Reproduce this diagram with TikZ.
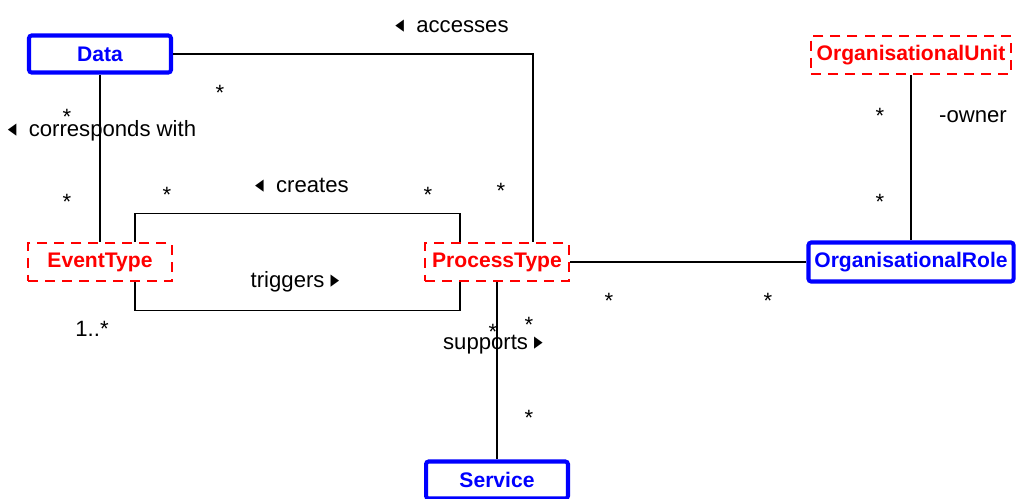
\documentclass[tikz,border=0pt]{standalone}
\usepackage{graphicx}
\usepackage{fontspec}
\setmainfont{Liberation Sans}
\newfontfamily\trifont{DejaVu Sans}
\usetikzlibrary{positioning}
\tikzstyle{cls} = [rectangle, rounded corners=1.5pt, minimum width=2.84cm, minimum height=0.74cm, text centered, draw=blue, line width=2.3pt, text=blue, font=\fontsize{12}{14}\selectfont\bfseries]
\tikzstyle{abstr} = [rectangle, minimum width=2.88cm, minimum height=0.76cm, text centered, draw=red, line width=1.2pt, dash pattern=on 5.7pt off 4pt, text=red, font=\fontsize{12}{14}\selectfont\bfseries]
\tikzstyle{assoc} = [line width=0.6pt]
\tikzstyle{lbl} = [anchor=base, inner sep=0pt, font=\fontsize{12.6}{15}\selectfont]
\newcommand{\ltri}{\scalebox{0.7}[1]{\trifont\fontsize{14}{14}\selectfont ◂}}
\newcommand{\rtri}{\scalebox{0.7}[1]{\trifont\fontsize{14}{14}\selectfont ▸}}

\begin{document}
\begin{tikzpicture}[x=0.02cm, y=-0.02cm]
\useasboundingbox (0,0) rectangle (1017,498);

\node (data) [cls] at (100,54) {Data};
\node (ounit) [abstr, minimum width=4.0cm] at (911,55) {OrganisationalUnit};
\node (etype) [abstr] at (100,262) {EventType};
\node (ptype) [abstr] at (497,262) {ProcessType};
\node (orole) [cls, minimum width=4.08cm, minimum height=0.78cm] at (911,262) {OrganisationalRole};
\node (service) [cls] at (497,480) {Service};

\draw [assoc] (data.east) -| ([xshift=0.72cm]ptype.north);
\draw [assoc] (data) -- (etype);
\draw [assoc] ([xshift=0.7cm]etype.north) -- ++(0,0.56cm) -| ([xshift=-0.74cm]ptype.north);
\draw [assoc] ([xshift=0.7cm]etype.south) -- ++(0,-0.56cm) -| ([xshift=-0.74cm]ptype.south);
\draw [assoc] (ptype) -- (orole);
\draw [assoc] (ounit) -- (orole);
\draw [assoc] (ptype) -- (service);

% association names
\node (acc) [lbl] at (452,32) {\ltri\ \ accesses};
\node (corr) [lbl] at (102,136) {\ltri\ \ corresponds with};
\node (cre) [lbl] at (302,192) {\ltri\ \ creates};
\node (trig) [lbl] at (295,287) {triggers \rtri};
\node (supp) [lbl] at (493,349) {supports \rtri};
\node (own) [lbl] at (973,122) {-owner};

% multiplicities
\node (m1) [lbl] at (220,100) {*};
\node (m2) [lbl] at (501,198) {*};
\node (m3) [lbl] at (67,124) {*};
\node (m4) [lbl] at (67,209) {*};
\node (m5) [lbl] at (167,202) {*};
\node (m6) [lbl] at (428,202) {*};
\node (m7) [lbl] at (92,336) {1..*};
\node (m8) [lbl] at (493,339) {*};
\node (m9) [lbl] at (529,332) {*};
\node (m10) [lbl] at (529,425) {*};
\node (m11) [lbl] at (609,308) {*};
\node (m12) [lbl] at (768,308) {*};
\node (m13) [lbl] at (880,123) {*};
\node (m14) [lbl] at (880,209) {*};

\end{tikzpicture}
\end{document}
